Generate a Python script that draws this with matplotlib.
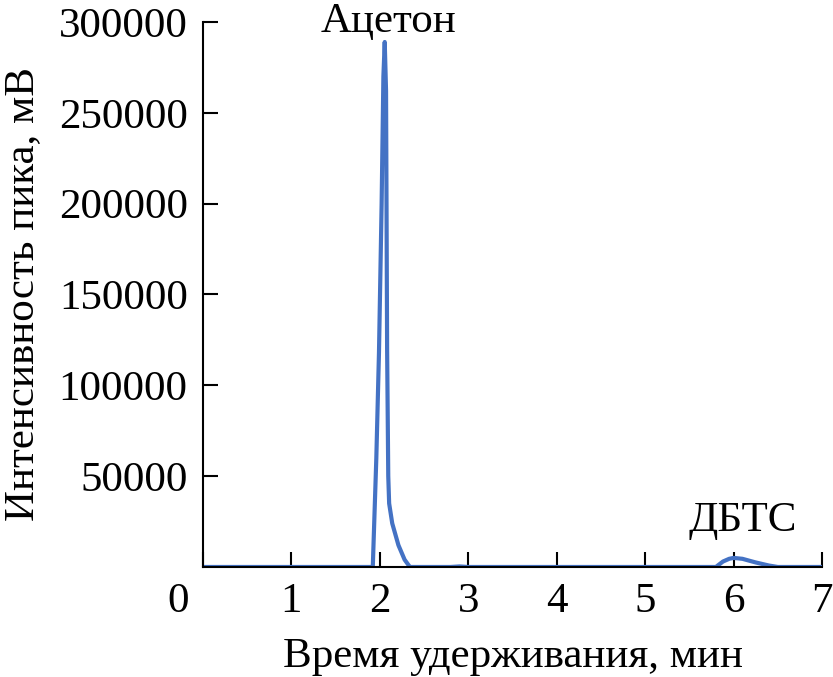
import matplotlib.pyplot as plt
from matplotlib.transforms import ScaledTranslation

plt.rcParams['font.family'] = ['Liberation Serif', 'DejaVu Serif']

# хроматограмма: время (мин) и интенсивность (мВ)
time = [0.0, 1.92, 1.96, 1.99, 2.02, 2.04, 2.055, 2.07, 2.082, 2.095, 2.105,
        2.14, 2.21, 2.28, 2.34, 2.8, 2.9, 3.0, 5.8, 5.88, 5.95, 6.0, 6.1,
        6.25, 6.4, 6.5, 7.0]
signal = [0, 0, 60000, 118000, 200000, 270000, 289000, 262000, 120000, 50000,
          35000, 24000, 12000, 4000, 0, 0, 300, 0, 0, 3000, 4500, 5000, 4500,
          2500, 800, 0, 0]

xticks = [0, 1, 2, 3, 4, 5, 6, 7]
yticks = [50000, 100000, 150000, 200000, 250000, 300000]

fig = plt.figure(figsize=(8.33, 6.77), dpi=100)
ax = fig.add_axes([0.2437, 0.1625, 0.7431, 0.805])

ax.plot(time, signal, color='#4472c4', lw=3.0, solid_joinstyle='round')

ax.set_xlim(0, 7)
ax.set_ylim(0, 300000)
ax.set_xticks(xticks)
ax.set_xticklabels([str(v) for v in xticks])
ax.set_yticks(yticks)
ax.set_yticklabels([str(v) for v in yticks])

ax.spines['top'].set_visible(False)
ax.spines['right'].set_visible(False)
for s in ['left', 'bottom']:
    ax.spines[s].set_linewidth(1.5)
ax.tick_params(direction='in', length=11, width=1.5, labelsize=31)
ax.tick_params(axis='x', pad=11)
ax.tick_params(axis='y', pad=11)

# "0" сдвинут влево от начала оси
lab0 = ax.get_xticklabels()[0]
lab0.set_transform(lab0.get_transform() + ScaledTranslation(-25 / 100, 0, fig.dpi_scale_trans))

ax.set_xlabel('Время удерживания, мин', fontsize=31, labelpad=12)
ax.set_ylabel('Интенсивность пика, мВ', fontsize=31, labelpad=12)

ax.text(2.1, 300000, 'Ацетон', ha='center', va='center', fontsize=31)
ax.text(6.1, 25500, 'ДБТС', ha='center', va='center', fontsize=31)

fig.savefig('out.png', dpi=100)
